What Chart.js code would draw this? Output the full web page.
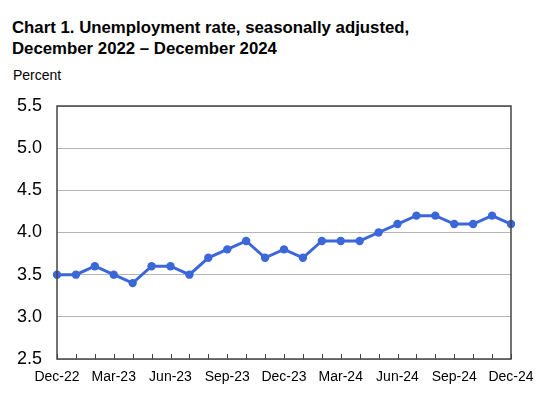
<!DOCTYPE html>
<html>
<head>
<meta charset="utf-8">
<script src="https://cdn.jsdelivr.net/npm/chart.js@4"></script>
<style>
  html, body { margin: 0; padding: 0; background: #fff; }
  #wrap { position: relative; width: 540px; height: 397px; overflow: hidden; font-family: "Liberation Sans", Arial, sans-serif; }
  #title { position: absolute; left: 12px; top: 17px; font-weight: bold; font-size: 16.8px; line-height: 21px; color: #000; white-space: nowrap; }
  #unit { position: absolute; left: 13px; top: 67px; font-size: 14px; color: #000; }
  canvas { position: absolute; left: 0; top: 0; }
</style>
</head>
<body>
<div id="wrap">
  <div id="title">Chart 1. Unemployment rate, seasonally adjusted,<br>December 2022 – December 2024</div>
  <div id="unit">Percent</div>
  <canvas id="c" width="540" height="397"></canvas>
</div>
<script>
const months = ["Dec-22","Jan-23","Feb-23","Mar-23","Apr-23","May-23","Jun-23","Jul-23","Aug-23","Sep-23","Oct-23","Nov-23","Dec-23","Jan-24","Feb-24","Mar-24","Apr-24","May-24","Jun-24","Jul-24","Aug-24","Sep-24","Oct-24","Nov-24","Dec-24"];
const unemploymentRate = [3.5,3.5,3.6,3.5,3.4,3.6,3.6,3.5,3.7,3.8,3.9,3.7,3.8,3.7,3.9,3.9,3.9,4.0,4.1,4.2,4.2,4.1,4.1,4.2,4.1];
const shownLabels = ["Dec-22","Mar-23","Jun-23","Sep-23","Dec-23","Mar-24","Jun-24","Sep-24","Dec-24"];
const yTicks = [2.5,3.0,3.5,4.0,4.5,5.0,5.5];

const frame = {
  id: 'frame',
  afterDatasetsDraw(chart) {
    const a = chart.chartArea, ctx = chart.ctx, xs = chart.scales.x;
    ctx.save();
    ctx.strokeStyle = '#444';
    ctx.lineWidth = 1;
    ctx.beginPath();
    for (let i = 0; i < months.length; i++) {
      const x = Math.round(xs.getPixelForValue(i)) + 0.5;
      ctx.moveTo(x, a.bottom);
      ctx.lineTo(x, a.bottom - 5);
    }
    ctx.stroke();
    ctx.lineWidth = 1.5;
    ctx.strokeRect(a.left, a.top, a.right - a.left, a.bottom - a.top);
    ctx.restore();
  }
};

new Chart(document.getElementById('c'), {
  type: 'line',
  data: {
    labels: months,
    datasets: [{
      data: unemploymentRate,
      borderColor: '#3b67d8',
      backgroundColor: '#3b67d8',
      borderWidth: 3,
      pointRadius: 4.2,
      pointBorderWidth: 0,
      tension: 0,
      clip: false
    }]
  },
  options: {
    responsive: false,
    animation: false,
    devicePixelRatio: 1,
    layout: { padding: { left: 0, top: 106, right: 29, bottom: 0 } },
    plugins: { legend: { display: false }, tooltip: { enabled: false } },
    scales: {
      x: {
        type: 'category',
        offset: false,
        grid: { display: false, drawTicks: false },
        border: { display: false },
        ticks: {
          autoSkip: false,
          maxRotation: 0,
          padding: 10,
          color: '#000',
          font: { family: '"Liberation Sans", Arial, sans-serif', size: 14 },
          callback: function(v, i) { const l = months[i]; return shownLabels.includes(l) ? l : ''; }
        },
        afterFit(s) { s.height = 38; s.paddingLeft = 0; s.paddingRight = 0; }
      },
      y: {
        min: 2.5, max: 5.5,
        afterBuildTicks(s) { s.ticks = yTicks.map(v => ({ value: v })); },
        grid: { color: '#b5b5b5', lineWidth: 1, drawTicks: false },
        border: { display: false },
        ticks: {
          padding: 15,
          color: '#000',
          font: { family: '"Liberation Sans", Arial, sans-serif', size: 18 },
          callback: v => v.toFixed(1)
        },
        afterFit(s) { s.width = 57; s.paddingTop = 0; s.paddingBottom = 0; }
      }
    }
  },
  plugins: [frame]
});
</script>
</body>
</html>
